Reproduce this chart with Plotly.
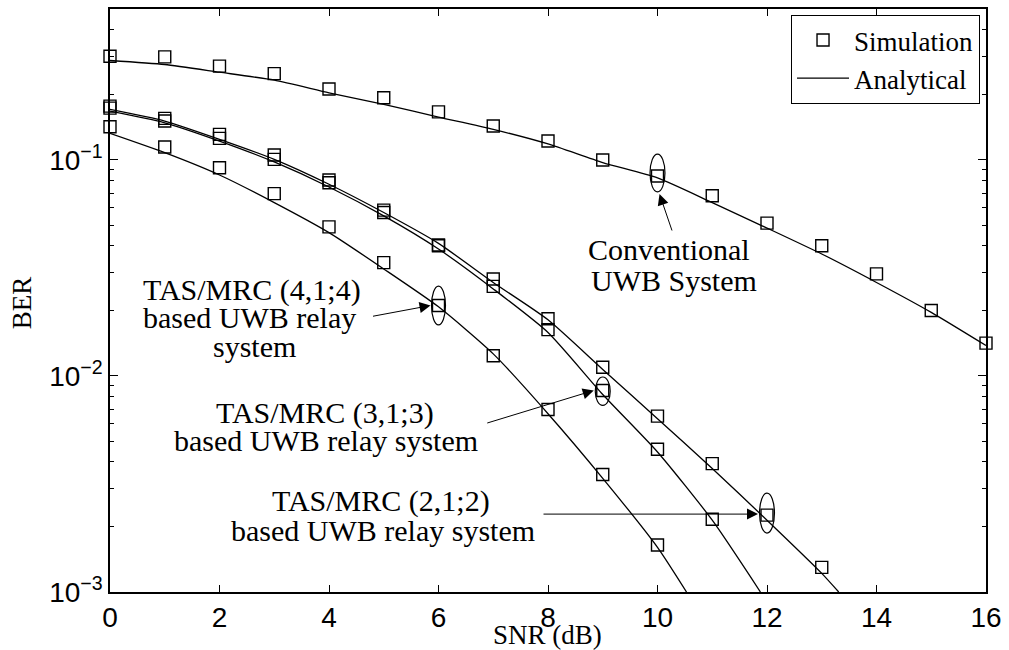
import math
import plotly.graph_objects as go

# ---------------- data ----------------
snr_conv = list(range(0, 17))
ber_conv_sim = [0.302, 0.300, 0.272, 0.251, 0.213, 0.194, 0.167, 0.1436, 0.1225, 0.100,
                0.0843, 0.0683, 0.0510, 0.0401, 0.0297, 0.0201, 0.0142]
ber_conv_ana = [0.2887, 0.2767, 0.2549, 0.2342, 0.2046, 0.1808, 0.1580, 0.1386, 0.1186, 0.0972,
                0.0826, 0.0635, 0.0484, 0.0367, 0.0271, 0.0197, 0.01383]

snr_212_sim = list(range(0, 14))
ber_212_sim = [0.1776, 0.1558, 0.1314, 0.1055, 0.0808, 0.0586, 0.0404, 0.0281, 0.0184, 0.01098,
               0.00652, 0.00393, 0.00227, 0.00130]
snr_212_ana = list(range(0, 14)) + [13.31]
ber_212_ana = [0.1714, 0.1514, 0.1246, 0.1007, 0.0772, 0.0571, 0.0411, 0.0271, 0.0182, 0.01072,
               0.00634, 0.00373, 0.00215, 0.00122, 0.001]

snr_313_sim = list(range(0, 12))
ber_313_sim = [0.1738, 0.1514, 0.1259, 0.1007, 0.0785, 0.0571, 0.0401, 0.0260, 0.0164, 0.00857,
               0.00458, 0.00217]
snr_313_ana = list(range(0, 12)) + [11.88]
ber_313_ana = [0.1683, 0.1487, 0.1224, 0.0979, 0.0750, 0.0551, 0.0387, 0.0253, 0.0159, 0.00821,
               0.00445, 0.00215, 0.001]

snr_414_sim = list(range(0, 11))
ber_414_sim = [0.1425, 0.1148, 0.0921, 0.0699, 0.0490, 0.0335, 0.0212, 0.01240, 0.00700, 0.00350,
               0.00165]
snr_414_ana = list(range(0, 11)) + [10.53]
ber_414_ana = [0.1328, 0.1081, 0.0852, 0.0635, 0.0461, 0.0313, 0.0209, 0.01266, 0.00669, 0.00336,
               0.00161, 0.001]

x_ticks = [0, 2, 4, 6, 8, 10, 12, 14, 16]
y_ticks = [0.001, 0.01, 0.1]
y_ticktext = ["10<sup>\u22123</sup>", "10<sup>\u22122</sup>", "10<sup>\u22121</sup>"]
y_minor = [k * 10 ** e for e in (-3, -2, -1) for k in range(2, 10) if k * 10 ** e <= 0.5]

label_conv = ["Conventional", "UWB System"]
label_414 = ["TAS/MRC (4,1;4)", "based UWB relay", "system"]
label_313 = ["TAS/MRC (3,1;3)", "based UWB relay system"]
label_212 = ["TAS/MRC (2,1;2)", "based UWB relay system"]

# ---------------- layout geometry ----------------
SERIF = "Liberation Serif"
SANS = "Liberation Sans"
W, H = 1009, 650
L, R, T, B = 110, 989, 7, 592
X_RANGE = [0, 16]
Y_RANGE = [-3, math.log10(0.5)]
PX_PER_X = (R - L) / (X_RANGE[1] - X_RANGE[0])
PX_PER_DEC = (B - T) / (Y_RANGE[1] - Y_RANGE[0])


def px2paper(px, py):
    return (px - L) / (R - L), (B - py) / (B - T)


fig = go.Figure()

line_style = dict(color="black", width=1.3, shape="spline", smoothing=0.6)
marker_style = dict(symbol="square-open", size=12, color="black", line=dict(color="black", width=1.4))

sim_sets = [(snr_conv, ber_conv_sim), (snr_212_sim, ber_212_sim),
            (snr_313_sim, ber_313_sim), (snr_414_sim, ber_414_sim)]
ana_sets = [(snr_conv, ber_conv_ana), (snr_212_ana, ber_212_ana),
            (snr_313_ana, ber_313_ana), (snr_414_ana, ber_414_ana)]

for i, (xs, ys) in enumerate(sim_sets):
    fig.add_trace(go.Scatter(x=xs, y=ys, mode="markers", marker=marker_style,
                             name="Simulation", showlegend=(i == 0), cliponaxis=False))
    if i == 0:
        ax_, ay_ = ana_sets[0]
        fig.add_trace(go.Scatter(x=ax_, y=ay_, mode="lines", line=line_style,
                                 name="Analytical", showlegend=True))
for xs, ys in ana_sets[1:]:
    fig.add_trace(go.Scatter(x=xs, y=ys, mode="lines", line=line_style,
                             name="Analytical", showlegend=False))

# ellipses around selected simulation points: (x, y, width px, bottom px, top px)
ellipses = [
    (snr_conv[10], ber_conv_sim[10], 15, -16, 22),
    (snr_414_sim[6], ber_414_sim[6], 14, -19.5, 19.5),
    (snr_313_sim[9], ber_313_sim[9], 15, -15, 13.5),
    (snr_212_sim[12], ber_212_sim[12], 15, -18, 22),
]
for xa, ya, w, pb, pt in ellipses:
    dx = (w / 2) / PX_PER_X
    ly = math.log10(ya)
    fig.add_shape(type="circle", xref="x", yref="y",
                  x0=xa - dx, x1=xa + dx,
                  y0=10 ** (ly + pb / PX_PER_DEC), y1=10 ** (ly + pt / PX_PER_DEC),
                  line=dict(color="black", width=1.2), fillcolor="rgba(0,0,0,0)")

# arrows (tip anchored on simulation points, offsets in pixels)
arrows = [
    (snr_conv[10], ber_conv_sim[10], 2, -18, 13, 38),
    (snr_414_sim[6], ber_414_sim[6], -8, 0, -59, 11),
    (snr_313_sim[9], ber_313_sim[9], -9, 0, -108, 33),
    (snr_212_sim[12], ber_212_sim[12], -9, 1, -216, 0),
]
for xa, ya, xs, ys, axp, ayp in arrows:
    fig.add_annotation(x=xa, y=math.log10(ya), xref="x", yref="y", text="",
                       showarrow=True, arrowhead=2, arrowsize=2.2, arrowwidth=1,
                       arrowcolor="black", ax=axp, ay=ayp, xshift=xs, yshift=ys, standoff=0)

# text labels
label_pos = [
    (label_conv, [(671, 248), (676, 279)]),
    (label_414, [(252, 289), (250, 317), (255, 346)]),
    (label_313, [(326, 412), (327, 440)]),
    (label_212, [(382, 501), (384, 530)]),
]
for lines, pos in label_pos:
    for txt, (px, py) in zip(lines, pos):
        xp, yp = px2paper(px, py)
        fig.add_annotation(x=xp, y=yp, xref="paper", yref="paper", text=txt, showarrow=False,
                           xanchor="center", yanchor="middle",
                           font=dict(family=SERIF, size=30, color="black"))

# axis titles
xp, yp = px2paper(549, 635)
fig.add_annotation(x=xp, y=yp, xref="paper", yref="paper", text="SNR (dB)", showarrow=False,
                   xanchor="center", yanchor="middle", font=dict(family=SERIF, size=27, color="black"))
xp, yp = px2paper(22, 302)
fig.add_annotation(x=xp, y=yp, xref="paper", yref="paper", text="BER", showarrow=False,
                   textangle=-90, xanchor="center", yanchor="middle",
                   font=dict(family=SERIF, size=27, color="black"))

fig.update_layout(
    width=W, height=H,
    margin=dict(l=L, r=W - R, t=T, b=H - B),
    paper_bgcolor="white", plot_bgcolor="white",
    showlegend=True,
    legend=dict(x=(983 - L) / (R - L), y=(B - 13) / (B - T), xanchor="right", yanchor="top",
                bgcolor="white", bordercolor="black", borderwidth=1,
                font=dict(family=SERIF, size=27, color="black"),
                tracegroupgap=0, itemwidth=52),
    xaxis=dict(range=X_RANGE, tickvals=x_ticks, ticks="inside", ticklen=7, tickwidth=1,
               tickcolor="black", showline=True, linecolor="black", linewidth=1.5,
               mirror="ticks", showgrid=False, zeroline=False,
               tickfont=dict(family=SANS, size=28, color="black")),
    yaxis=dict(type="log", range=Y_RANGE, tickvals=y_ticks, ticktext=y_ticktext,
               ticks="inside", ticklen=8, tickwidth=1, tickcolor="black",
               showline=True, linecolor="black", linewidth=1.5, mirror="ticks",
               showgrid=False, zeroline=False,
               tickfont=dict(family=SANS, size=28, color="black"),
               minor=dict(tickvals=y_minor, ticks="inside", ticklen=4, tickwidth=1,
                          tickcolor="black", showgrid=False)),
)

fig.write_html("out.html")
